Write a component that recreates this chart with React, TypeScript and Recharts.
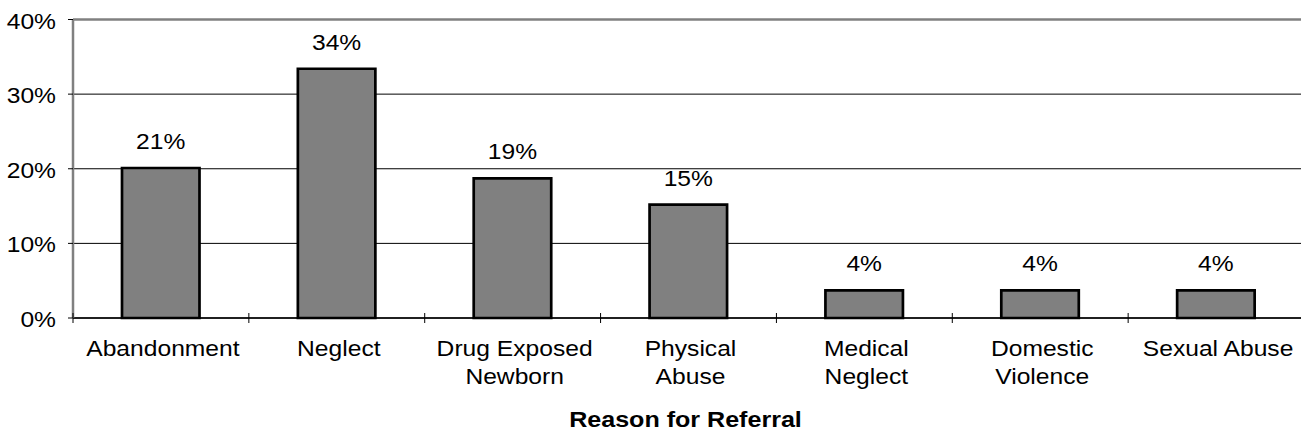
import React from 'react';
import { BarChart, Bar, XAxis, YAxis, CartesianGrid, LabelList, ReferenceLine, Label } from 'recharts';

const categories = [
  'Abandonment',
  'Neglect',
  'Drug Exposed\nNewborn',
  'Physical\nAbuse',
  'Medical\nNeglect',
  'Domestic\nViolence',
  'Sexual Abuse',
];
const values = [20.1, 33.4, 18.7, 15.2, 3.7, 3.7, 3.7];
const valueLabels = ['21%', '34%', '19%', '15%', '4%', '4%', '4%'];
const yTicks = [0, 10, 20, 30, 40];
const axisTitle = 'Reason for Referral';

const data = categories.map((c, i) => ({ name: c, value: values[i], label: valueLabels[i] }));

const FONT = '"Liberation Sans", Arial, sans-serif';
const SX = 1.12;

const XTick = (props: any) => {
  const { x, y, payload } = props;
  const lines = String(payload.value).split('\n');
  const half = Number(payload && payload.offset) || 0;
  return (
    <g>
      {half > 0 && (
        <line x1={x - half} x2={x - half} y1={y - 5} y2={y + 5} stroke="#000" strokeWidth={1} />
      )}
      {lines.map((ln, i) => (
        <text
          key={i}
          x={0}
          y={0}
          transform={`translate(${x + 2},${y + 38 + i * 28}) scale(${SX},1)`}
          textAnchor="middle"
          fontFamily={FONT}
          fontSize={22}
          fill="#000"
        >
          {ln}
        </text>
      ))}
    </g>
  );
};

const YTick = (props: any) => {
  const { x, y, payload } = props;
  return (
    <text
      x={0}
      y={0}
      transform={`translate(${x},${y + 9}) scale(${SX},1)`}
      textAnchor="end"
      fontFamily={FONT}
      fontSize={22}
      fill="#000"
    >
      {`${payload.value}%`}
    </text>
  );
};

const ValueLabel = (props: any) => {
  const { x, y, width, value } = props;
  return (
    <text
      x={0}
      y={0}
      transform={`translate(${Number(x) + Number(width) / 2},${Number(y) - 19}) scale(${SX},1)`}
      textAnchor="middle"
      fontFamily={FONT}
      fontSize={22}
      fill="#000"
    >
      {value}
    </text>
  );
};

const TitleLabel = (props: any) => {
  const vb = props.viewBox || { x: 73, y: 318, width: 1231, height: 120 };
  return (
    <text
      x={0}
      y={0}
      transform={`translate(${vb.x + vb.width / 2 - 3},${vb.y + 109}) scale(1.14,1)`}
      textAnchor="middle"
      fontFamily={FONT}
      fontSize={22}
      fontWeight="bold"
      fill="#000"
    >
      {axisTitle}
    </text>
  );
};

export default function App() {
  return (
    <div style={{ position: 'absolute', left: 0, top: 0, width: 1301, height: 438, overflow: 'hidden', background: '#fff' }}>
      <BarChart width={1304} height={438} data={data} margin={{ top: 19.5, right: 0, bottom: 0, left: 0 }}>
        <CartesianGrid vertical={false} stroke="#000" strokeWidth={1} />
        <XAxis
          dataKey="name"
          interval={0}
          height={120}
          axisLine={{ stroke: '#000', strokeWidth: 1.5 }}
          tickLine={false}
          tickSize={0}
          tickMargin={0}
          tick={<XTick />}
        >
          <Label content={<TitleLabel />} />
        </XAxis>
        <YAxis
          domain={[0, 40]}
          ticks={yTicks}
          interval={0}
          width={73}
          axisLine={{ stroke: '#808080', strokeWidth: 2.5 }}
          tickLine={{ stroke: '#000', strokeWidth: 1 }}
          tickSize={5}
          tickMargin={12}
          tick={<YTick />}
        />
        <ReferenceLine y={40} stroke="#808080" strokeWidth={2.5} />
        <Bar
          dataKey="value"
          fill="#808080"
          stroke="#000"
          strokeWidth={2.7}
          barSize={77.5}
          isAnimationActive={false}
        >
          <LabelList dataKey="label" content={<ValueLabel />} />
        </Bar>
      </BarChart>
    </div>
  );
}
